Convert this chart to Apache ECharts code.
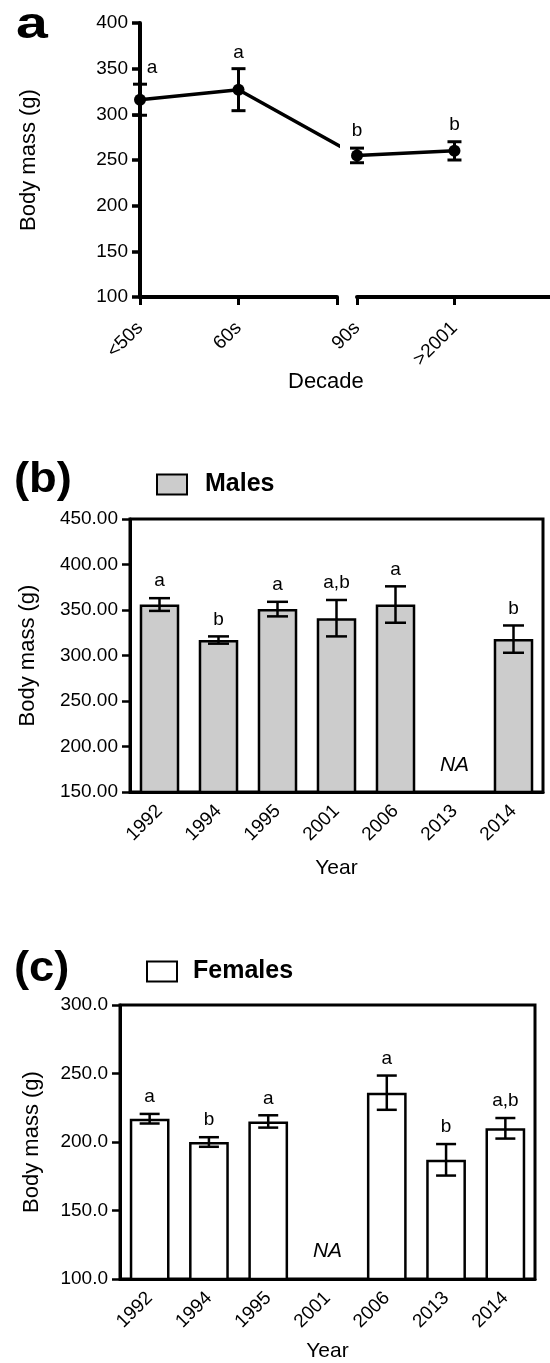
<!DOCTYPE html>
<html><head><meta charset="utf-8">
<script src="https://cdn.jsdelivr.net/npm/echarts@6/dist/echarts.min.js"></script>
<style>html,body{margin:0;padding:0;background:#fff}#c{width:550px;height:1363px}</style>
</head><body><div id="c"></div>
<script>
// ---------- data ----------
const decades = ['<50s', '60s', '90s', '>2001'];
const decadeMean = [316, 327, 255, 260];
const decadeSE = [17, 23, 8, 10];
const decadeLetters = ['a', 'a', 'b', 'b'];
const BREAK_AFTER = 1;      // axis break between 60s and 90s
const BREAK_GAP = 0.2;      // gap width in axis units

const years = ['1992', '1994', '1995', '2001', '2006', '2013', '2014'];
const maleMean = [356, 317, 351, 341, 356, null, 318];
const maleSE = [7, 4, 8, 20, 20, null, 15];
const maleLetters = ['a', 'b', 'a', 'a,b', 'a', '', 'b'];
const femaleMean = [217, 200, 215, null, 236, 187, 210];
const femaleSE = [3.5, 3.5, 4.5, null, 12.5, 11.5, 7.5];
const femaleLetters = ['a', 'b', 'a', '', 'a', 'b', 'a,b'];

const yRangeA = [100, 400, 50];
const yRangeB = [150, 450, 50];
const yRangeC = [100, 300, 50];

// ---------- helpers ----------
const FONT = 'Liberation Sans, Arial, Helvetica, sans-serif';
const BLACK = '#000';

function errRender(letters, o) {
  return function (params, api) {
    const i = params.dataIndex;
    const x = api.value(0), m = api.value(1), e = api.value(2);
    const children = [];
    if (m == null || isNaN(m)) {
      const p = api.coord([x, o.yMin]);
      children.push({ type: 'text', style: { text: 'NA', x: p[0], y: p[1] - o.naLift,
        align: 'center', verticalAlign: 'middle', font: 'italic 21px ' + FONT, fill: BLACK } });
      return { type: 'group', children };
    }
    const top = api.coord([x, m + e]), bot = api.coord([x, m - e]);
    const hw = o.cap / 2;
    const ls = { stroke: BLACK, lineWidth: o.lw };
    children.push({ type: 'line', shape: { x1: top[0], y1: top[1], x2: bot[0], y2: bot[1] }, style: ls });
    children.push({ type: 'line', shape: { x1: top[0] - hw, y1: top[1], x2: top[0] + hw, y2: top[1] }, style: ls });
    children.push({ type: 'line', shape: { x1: bot[0] - hw, y1: bot[1], x2: bot[0] + hw, y2: bot[1] }, style: ls });
    const dx = o.dx ? o.dx(i) : 0;
    if (letters[i]) {
      children.push({ type: 'text', style: { text: letters[i], x: top[0] + dx, y: top[1] - o.lift,
        align: 'center', verticalAlign: 'middle', font: '19px ' + FONT, fill: BLACK } });
    }
    return { type: 'group', children };
  };
}

function yAxisDef(grid, r, dec, gap, lw) {
  return {
    gridIndex: grid, type: 'value', min: r[0], max: r[1], interval: r[2],
    axisLine: { show: true, lineStyle: { color: BLACK, width: lw } },
    axisTick: { show: true, length: 8, lineStyle: { color: BLACK, width: lw - 0.5 } },
    axisLabel: { color: BLACK, fontSize: 19, fontFamily: FONT, margin: 12,
      formatter: v => dec == null ? String(v) : v.toFixed(dec) },
    splitLine: { show: false },
    name: 'Body mass (g)', nameLocation: 'middle', nameGap: gap,
    nameTextStyle: { color: BLACK, fontSize: 22, fontFamily: FONT }
  };
}

const allIdx = decades.map((_, i) => i);
const leftIdx = allIdx.filter(i => i <= BREAK_AFTER);
const rightIdx = allIdx.filter(i => i > BREAK_AFTER);
// left segment line continues toward the first point after the break (clipped at the break)
const leftLine = allIdx.filter(i => i <= BREAK_AFTER + 1)
  .map(i => [i > BREAK_AFTER ? i + BREAK_GAP : i, decadeMean[i]]);

const xDecadeAxis = (grid, min, max, tickVals) => ({
  gridIndex: grid, type: 'value', min: min, max: max, interval: 1,
  axisLine: { show: true, onZero: false, lineStyle: { color: BLACK, width: 4 } },
  axisTick: { show: true, length: 8, lineStyle: { color: BLACK, width: 3 }, customValues: tickVals },
  axisLabel: { color: BLACK, fontSize: 19, fontFamily: FONT, rotate: 45, margin: 28,
    customValues: tickVals,
    formatter: v => (Number.isInteger(v) && decades[v] !== undefined &&
      (grid === 0 ? v <= BREAK_AFTER : v > BREAK_AFTER)) ? decades[v] : '' },
  splitLine: { show: false }
});

const yearAxis = (grid, gap) => ({
  gridIndex: grid, type: 'category', data: years,
  axisLine: { show: true, onZero: false, lineStyle: { color: BLACK, width: 3 } },
  axisTick: { show: false },
  axisLabel: { color: BLACK, fontSize: 19, fontFamily: FONT, rotate: 45, margin: 16, interval: 0 },
  name: 'Year', nameLocation: 'middle', nameGap: gap,
  nameTextStyle: { color: BLACK, fontSize: 21, fontFamily: FONT }
});

const option = {
  backgroundColor: '#fff',
  animation: false,
  textStyle: { fontFamily: FONT },
  grid: [
    { left: 140, top: 23, width: 197, height: 274 },
    { left: 357, top: 23, width: 193, height: 274 },
    { left: 130, top: 519, width: 413, height: 273, show: true, borderColor: BLACK, borderWidth: 3 },
    { left: 120, top: 1005, width: 415, height: 274, show: true, borderColor: BLACK, borderWidth: 3 }
  ],
  xAxis: [
    xDecadeAxis(0, 0, BREAK_AFTER + 1, allIdx.filter(i => i <= BREAK_AFTER + 1)),
    xDecadeAxis(1, BREAK_AFTER + 1, BREAK_AFTER + 1 + 1.98, rightIdx),
    yearAxis(2, 66),
    yearAxis(3, 62)
  ],
  yAxis: [
    yAxisDef(0, yRangeA, null, 100, 4),
    Object.assign(yAxisDef(1, yRangeA, null, 0, 4), { show: false, name: '' }),
    yAxisDef(2, yRangeB, 2, 91, 3),
    yAxisDef(3, yRangeC, 1, 77, 3)
  ],
  legend: [
    { data: ['Males'], left: 156, top: 472, itemWidth: 30, itemHeight: 20, padding: 0,
      selectedMode: false, icon: 'rect',
      itemStyle: { borderColor: BLACK, borderWidth: 2 },
      textStyle: { color: BLACK, fontSize: 25, fontWeight: 'bold', fontFamily: FONT, padding: [0, 0, 0, 13] } },
    { data: ['Females'], left: 146, top: 959, itemWidth: 30, itemHeight: 20, padding: 0,
      selectedMode: false, icon: 'rect',
      itemStyle: { borderColor: BLACK, borderWidth: 2 },
      textStyle: { color: BLACK, fontSize: 25, fontWeight: 'bold', fontFamily: FONT, padding: [0, 0, 0, 11] } }
  ],
  graphic: [
    { type: 'text', x: 16, y: 26, scaleX: 1.3, style: { text: 'a', font: 'bold 44px ' + FONT, fill: BLACK, verticalAlign: 'middle' } },
    { type: 'text', x: 14, y: 480, scaleX: 1.08, style: { text: '(b)', font: 'bold 42px ' + FONT, fill: BLACK, verticalAlign: 'middle' } },
    { type: 'text', x: 14, y: 969, scaleX: 1.08, style: { text: '(c)', font: 'bold 42px ' + FONT, fill: BLACK, verticalAlign: 'middle' } },
    { type: 'text', left: 288, top: 371, style: { text: 'Decade', font: '22px ' + FONT, fill: BLACK } }
  ],
  series: [
    // panel a
    { type: 'line', xAxisIndex: 0, yAxisIndex: 0, data: leftLine, clip: true,
      symbol: 'circle', symbolSize: 12, lineStyle: { color: BLACK, width: 3.5 }, itemStyle: { color: BLACK }, z: 3 },
    { type: 'line', xAxisIndex: 1, yAxisIndex: 1, data: rightIdx.map(i => [i, decadeMean[i]]),
      symbol: 'circle', symbolSize: 12, lineStyle: { color: BLACK, width: 3.5 }, itemStyle: { color: BLACK }, z: 3 },
    { type: 'custom', xAxisIndex: 0, yAxisIndex: 0, clip: false, z: 4,
      data: leftIdx.map(i => [i, decadeMean[i], decadeSE[i]]),
      renderItem: errRender(leftIdx.map(i => decadeLetters[i]), { cap: 14, lw: 3, lift: 16, yMin: yRangeA[0], naLift: 0, dx: i => (i === 0 ? 12 : 0) }) },
    { type: 'custom', xAxisIndex: 1, yAxisIndex: 1, clip: false, z: 4,
      data: rightIdx.map(i => [i, decadeMean[i], decadeSE[i]]),
      renderItem: errRender(rightIdx.map(i => decadeLetters[i]), { cap: 14, lw: 3, lift: 17, yMin: yRangeA[0], naLift: 0 }) },
    // panel b
    { name: 'Males', type: 'bar', xAxisIndex: 2, yAxisIndex: 2, data: maleMean, barWidth: '67%',
      itemStyle: { color: '#cccccc', borderColor: BLACK, borderWidth: 2.5 } },
    { type: 'custom', xAxisIndex: 2, yAxisIndex: 2, z: 5,
      data: years.map((_, i) => [i, maleMean[i], maleSE[i]]),
      renderItem: errRender(maleLetters, { cap: 21, lw: 2.5, lift: 17, yMin: yRangeB[0], naLift: 27 }) },
    // panel c
    { name: 'Females', type: 'bar', xAxisIndex: 3, yAxisIndex: 3, data: femaleMean, barWidth: '67%',
      itemStyle: { color: '#ffffff', borderColor: BLACK, borderWidth: 2.5 } },
    { type: 'custom', xAxisIndex: 3, yAxisIndex: 3, z: 5,
      data: years.map((_, i) => [i, femaleMean[i], femaleSE[i]]),
      renderItem: errRender(femaleLetters, { cap: 20, lw: 2.5, lift: 17, yMin: yRangeC[0], naLift: 28 }) }
  ]
};

const chart = echarts.init(document.getElementById('c'), null, { renderer: 'canvas' });
chart.setOption(option);
</script>
</body></html>
